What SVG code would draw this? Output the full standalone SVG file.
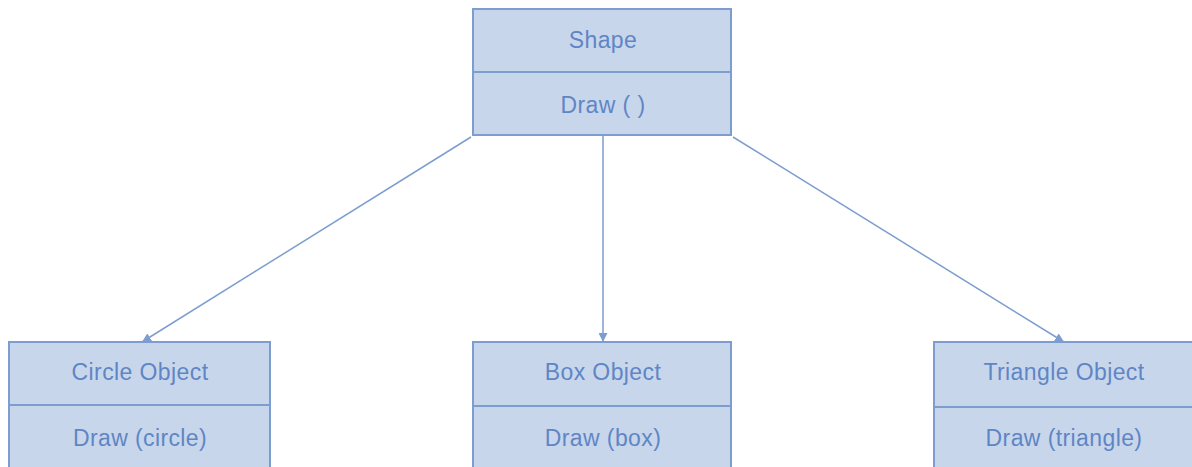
<svg xmlns="http://www.w3.org/2000/svg" width="1192" height="467" viewBox="0 0 1192 467">
<style>
.box{fill:#c8d6ec;stroke:#7d9dd0;stroke-width:2}
.div{stroke:#7d9dd0;stroke-width:2}
.t{font-family:"Liberation Sans",Arial,sans-serif;font-size:23px;letter-spacing:0.4px;fill:#5f86c4;text-anchor:middle}
.c{stroke:#7d9dd0;stroke-width:1.5;fill:none}
</style>
<defs>
<marker id="ah" viewBox="0 0 10 10" refX="10" refY="5" markerWidth="9" markerHeight="9" orient="auto-start-reverse" markerUnits="userSpaceOnUse">
<path d="M0,0 L10,5 L0,10 z" fill="#7d9dd0"/>
</marker>
</defs>
<rect width="1192" height="467" fill="#ffffff"/>
<g id="connectors">
<line class="c" x1="471" y1="137" x2="142" y2="342" marker-end="url(#ah)"/>
<line class="c" x1="603" y1="136" x2="603" y2="342" marker-end="url(#ah)"/>
<line class="c" x1="733" y1="137" x2="1064" y2="342" marker-end="url(#ah)"/>
</g>
<g id="shape">
<rect class="box" x="473" y="9" width="258" height="126"/>
<line class="div" x1="473" y1="72" x2="731" y2="72"/>
<text class="t" x="603" y="48">Shape</text>
<text class="t" x="603" y="113">Draw ( )</text>
</g>
<g id="circle">
<rect class="box" x="9" y="342" width="261" height="130"/>
<line class="div" x1="9" y1="405" x2="270" y2="405"/>
<text class="t" x="140" y="380">Circle Object</text>
<text class="t" x="140" y="446">Draw (circle)</text>
</g>
<g id="box">
<rect class="box" x="473" y="342" width="258" height="130"/>
<line class="div" x1="473" y1="406" x2="731" y2="406"/>
<text class="t" x="603" y="380">Box Object</text>
<text class="t" x="603" y="446">Draw (box)</text>
</g>
<g id="triangle">
<rect class="box" x="934" y="342" width="262" height="130"/>
<line class="div" x1="934" y1="407" x2="1196" y2="407"/>
<text class="t" x="1064" y="380">Triangle Object</text>
<text class="t" x="1064" y="446">Draw (triangle)</text>
</g>
</svg>
